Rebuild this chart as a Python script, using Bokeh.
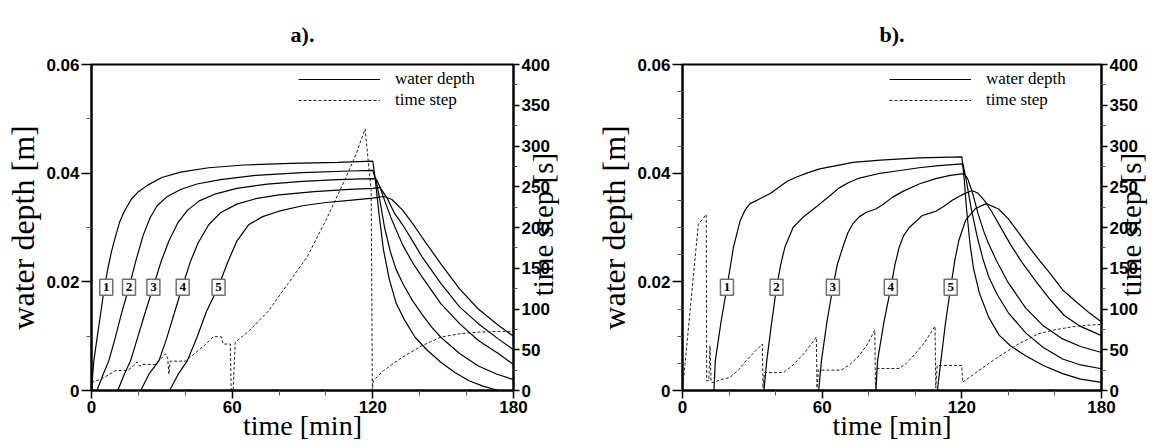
import math
from bokeh.plotting import figure
from bokeh.layouts import row
from bokeh.models import (Range1d, LinearAxis, FixedTicker, CustomJSTickFormatter,
                          Legend, LegendItem, ColumnDataSource)
from bokeh.core.properties import value
from bokeh.embed import file_html
from bokeh.resources import INLINE

# ---------------- data : panel a) ----------------
a1_t = [0, 1, 2.5, 4, 5.5, 7, 8.5, 10, 12, 14, 17, 20, 24, 30, 38, 50, 65, 85, 105, 120,
        121, 122.5, 124.5, 127, 130, 133.5, 138, 143, 149, 155, 161, 167, 173.5]
a1_h = [0, 0.0055, 0.010, 0.0145, 0.019, 0.0225, 0.0255, 0.028, 0.031, 0.033, 0.0352, 0.0366,
        0.0378, 0.0392, 0.0402, 0.041, 0.0415, 0.0418, 0.042, 0.0422,
        0.039, 0.033, 0.026, 0.0205, 0.016, 0.013, 0.0098, 0.0075, 0.0052, 0.0033, 0.0018, 0.0008, 0]
a2_t = [2.3, 5, 7.4, 10, 13, 16, 19, 22, 25, 28, 32, 38, 45, 55, 70, 90, 110, 120,
        121.5, 123, 125, 127.5, 130, 133, 137, 141, 145, 149, 157, 165, 173, 180]
a2_h = [0, 0.003, 0.0055, 0.0095, 0.0145, 0.019, 0.024, 0.0285, 0.0318, 0.034, 0.0356, 0.037,
        0.038, 0.0388, 0.0396, 0.0401, 0.0404, 0.0405,
        0.0385, 0.035, 0.030, 0.0255, 0.0222, 0.0195, 0.0165, 0.014, 0.0117, 0.0098, 0.0068,
        0.0045, 0.003, 0.002]
a3_t = [11.2, 14, 16.7, 19.5, 23, 26.3, 29.5, 33, 37, 41, 46, 53, 62, 75, 90, 105, 120, 121.5,
        123, 125, 128, 132.7, 137, 141, 149, 157, 165, 173.5, 180]
a3_h = [0, 0.003, 0.0055, 0.0095, 0.0145, 0.019, 0.0235, 0.0275, 0.031, 0.0332, 0.0349, 0.0362,
        0.0372, 0.038, 0.0385, 0.0388, 0.039, 0.0389,
        0.0375, 0.035, 0.0315, 0.0268, 0.0235, 0.0209, 0.016, 0.0123, 0.0092, 0.0068, 0.0048]
a4_t = [21, 24.5, 28.8, 32, 35.5, 38.7, 42, 45.5, 50, 55, 62, 70, 80, 95, 110, 120, 123,
        126, 129, 132.7, 137, 141, 149, 157, 165, 173.5, 180]
a4_h = [0, 0.003, 0.0055, 0.0095, 0.0145, 0.019, 0.0235, 0.0272, 0.0305, 0.0327, 0.0343, 0.0353,
        0.036, 0.0366, 0.037, 0.0372, 0.0374,
        0.0355, 0.0328, 0.0305, 0.0275, 0.0246, 0.0197, 0.0154, 0.0123, 0.0095, 0.0075]
a5_t = [33.3, 37, 40.9, 45, 49, 54, 58, 62, 67, 73, 80, 90, 100, 110, 120, 124.6,
        128, 132.7, 137, 141, 149, 157, 165, 173.5, 180]
a5_h = [0, 0.003, 0.0055, 0.0098, 0.0145, 0.019, 0.0235, 0.0275, 0.0305, 0.032, 0.033, 0.034,
        0.0346, 0.035, 0.0354, 0.0357,
        0.0352, 0.0332, 0.0307, 0.0282, 0.0233, 0.0187, 0.015, 0.012, 0.010]
a_dt_t = [0, 3, 6, 10.4, 15.3, 17.5, 19.4, 20.5, 22, 27, 30, 31.6, 32.5, 33, 33.6, 40, 43, 48,
          52, 55.3, 56.2, 59.2, 59.6, 60.4, 61.3, 67.5, 75.6, 83.8, 92, 100, 108, 113, 116.7,
          119.3, 119.8, 120.2, 124.6, 132.7, 141, 149, 157, 165, 173.5, 180]
a_dt_s = [10, 13, 17, 24.6, 24.6, 29, 35, 30, 32, 32, 40, 45, 40, 20, 36, 36, 43, 55,
          66, 66, 57, 57, 0, 0, 59, 74, 98, 131, 164, 209, 258, 291, 321,
          245, 0, 12, 24.6, 41, 55, 65.5, 69.6, 71.6, 72.5, 72.5]
a_box_t = [6.3, 16.0, 26.4, 38.9, 54.2]

# ---------------- data : panel b) ----------------
b1_t = [13.5, 14.1, 16.5, 19.1, 21.9, 24.8, 27, 29, 32, 34.7, 37.5, 40.4, 45, 49, 54, 58.9, 65,
        73.2, 85, 101.6, 120,
        121, 122, 123.5, 125, 127.5, 131.5, 136, 141, 147.4, 155, 163.3, 171, 180]
b1_h = [0, 0.0055, 0.0125, 0.019, 0.0264, 0.0313, 0.0333, 0.0344, 0.035, 0.0356, 0.0362, 0.0371,
        0.0385, 0.0393, 0.0401, 0.0408, 0.0413, 0.042, 0.0424, 0.0428, 0.043,
        0.039, 0.0335, 0.027, 0.0225, 0.018, 0.0135, 0.0102, 0.0082, 0.0064, 0.0046, 0.0031,
        0.0021, 0.0015]
b2_t = [35, 36.2, 38.3, 40.4, 42.2, 44, 47.5, 51.8, 55, 57.5, 60, 63.2, 67, 71, 76, 84, 92,
        101.6, 110, 120.5,
        122, 124, 126.5, 129, 131.5, 135, 140, 147.4, 155, 163.3, 171, 180]
b2_h = [0, 0.0055, 0.0125, 0.019, 0.0232, 0.0264, 0.030, 0.0319, 0.033, 0.0338, 0.0347, 0.0358,
        0.0372, 0.0382, 0.0391, 0.0399, 0.0404, 0.041, 0.0414, 0.0417,
        0.0385, 0.0335, 0.0285, 0.0243, 0.021, 0.0178, 0.0143, 0.0106, 0.0079, 0.0058, 0.0047,
        0.004]
b3_t = [58.5, 59.7, 62, 64.6, 66.5, 68.9, 71, 73.2, 76, 79, 83, 86, 90, 94.5, 101.6, 108.8, 115,
        121, 122.5, 124.5, 127, 129.5, 131.5, 135, 140, 147.4, 155, 163.3, 171, 180]
b3_h = [0, 0.0055, 0.0125, 0.019, 0.0232, 0.0264, 0.029, 0.0307, 0.032, 0.0328, 0.0334, 0.0342,
        0.0355, 0.0366, 0.038, 0.039, 0.0396, 0.0399,
        0.039, 0.0365, 0.0325, 0.0292, 0.027, 0.0238, 0.0198, 0.0152, 0.0119, 0.0095, 0.0081,
        0.007]
b4_t = [83.1, 83.8, 86.5, 89.5, 91.3, 93.1, 95, 97.4, 100, 103, 106, 108.8, 112, 115.9, 120,
        124.4, 127, 130, 133, 137, 141, 146, 152, 158, 164, 171, 180]
b4_h = [0, 0.0055, 0.0125, 0.019, 0.0232, 0.0264, 0.0285, 0.030, 0.031, 0.0322, 0.0326, 0.033,
        0.0338, 0.035, 0.036, 0.0368, 0.0363, 0.0348, 0.0328, 0.0298, 0.0268, 0.0235, 0.020,
        0.0167, 0.0138, 0.0118, 0.0101]
b5_t = [109.5, 111, 113, 115.2, 117, 118.7, 121.6, 125.9, 130.5, 135.8, 140, 144.3, 148.5,
        152.9, 158, 163.3, 170, 175, 180]
b5_h = [0, 0.0055, 0.0125, 0.019, 0.024, 0.0276, 0.0313, 0.0335, 0.0344, 0.0334, 0.0316, 0.0291,
        0.0266, 0.0242, 0.0215, 0.0185, 0.016, 0.0142, 0.0126]
b_dt_t = [0, 6.8, 10.2, 10.4, 11.3, 11.8, 12.3, 13.5, 16, 20.3, 24, 27.5, 31.5, 34.3, 34.6,
          35.2, 43.4, 47, 52.1, 55, 57.5, 57.8, 58.4, 68.2, 72, 76, 79.5, 82.6, 82.9, 83.5,
          93, 96, 100, 104, 108.5, 108.8, 109.4, 120, 120.3, 127.3, 135, 144.3, 152.9, 160,
          167, 173, 180]
b_dt_s = [0, 204, 216, 12, 12, 55, 10, 10, 13, 16, 25, 37, 49, 57, 3,
          22, 22, 30, 45, 56, 65.5, 3, 25, 25, 32, 43, 57, 74, 3, 27,
          27, 33, 45, 59, 79, 3, 30.7, 30.7, 10, 24.5, 40, 57, 69.6, 74.5,
          78, 80, 81]
b_box_t = [19.1, 40.4, 64.6, 89.5, 115.2]

box_h = 0.019
box_labels = ["1", "2", "3", "4", "5"]
x_major = [0, 60, 120, 180]
x_minor = [20, 40, 80, 100, 140, 160]
y_major = [0, 0.02, 0.04, 0.06]
s_major = list(range(0, 401, 50))
s_minor = list(range(25, 400, 50))

SERIF = "Liberation Serif"
SANS = "Liberation Sans"
# leading no-break spaces lift the label so that it sits centred on the right axis
RIGHT_LABEL = "\u00a0" * 13 + "time step [s]"


def make_panel(title, curves, dt_t, dt_s, box_t, y_minor, left_border, right_border, width):
    p = figure(width=width, height=448, x_range=Range1d(0, 180), y_range=Range1d(0, 0.06),
               output_backend="svg", toolbar_location=None,
               min_border_left=left_border, min_border_right=right_border,
               min_border_top=64, min_border_bottom=58)
    p.title.text = title
    p.title.align = "center"
    p.title.vertical_align = "top"
    p.title.text_font = SERIF
    p.title.text_font_size = "22px"
    p.title.text_font_style = "bold"
    p.title.text_color = "black"
    p.title.standoff = 32
    p.xgrid.visible = False
    p.ygrid.visible = False
    p.outline_line_color = "black"
    p.outline_line_width = 2
    p.background_fill_color = "white"
    p.border_fill_color = "white"

    p.extra_y_ranges = {"ts": Range1d(0, 400)}

    rs = []
    for (t, h) in curves:
        r = p.line(t, h, line_color="black", line_width=1.2)
        rs.append(r)
    rd = p.line(dt_t, dt_s, y_range_name="ts", line_color="#222222", line_width=1,
                line_dash="3 2")

    src = ColumnDataSource(dict(x=box_t, y=[box_h] * 5, t=box_labels))
    p.rect("x", "y", width=13, height=16, width_units="screen", height_units="screen",
           source=src, fill_color="white", line_color="#707070", line_width=1.5)
    p.text("x", "y", text="t", source=src, text_font=value(SERIF), text_font_style="bold",
           text_font_size="13px", text_align="center", text_baseline="middle",
           text_color="black")

    # axes
    xa = p.xaxis[0]
    xa.ticker = FixedTicker(ticks=x_major, minor_ticks=x_minor)
    xa.axis_label = "time [min]"
    ya = p.yaxis[0]
    ya.ticker = FixedTicker(ticks=y_major, minor_ticks=y_minor)
    ya.formatter = CustomJSTickFormatter(code="return tick == 0 ? '0' : tick.toFixed(2);")
    ya.axis_label = "water depth [m]"
    ra = LinearAxis(y_range_name="ts", axis_label=RIGHT_LABEL,
                    ticker=FixedTicker(ticks=s_major, minor_ticks=s_minor))
    ra.axis_label_orientation = math.pi / 2
    ra.axis_label_align = "start"
    p.add_layout(ra, "right")

    for ax in (xa, ya, ra):
        ax.axis_line_width = 2
        ax.axis_line_color = "black"
        ax.major_tick_in = 0
        ax.minor_tick_in = 0
        ax.major_tick_line_width = 1.5
        ax.minor_tick_line_width = 1
        ax.minor_tick_line_color = "#555555"
        ax.major_label_text_font = SANS
        ax.major_label_text_font_style = "bold"
        ax.major_label_text_font_size = "17px"
        ax.major_label_text_color = "black"
        ax.axis_label_text_font = SERIF
        ax.axis_label_text_font_style = "normal"
        ax.axis_label_text_color = "black"
    xa.major_tick_out = 8
    xa.minor_tick_out = 5
    xa.major_label_standoff = 2
    xa.axis_label_text_font_size = "28px"
    xa.axis_label_standoff = -6
    ya.major_tick_out = 10
    ya.minor_tick_out = 5
    ya.major_label_standoff = 2
    ya.axis_label_text_font_size = "32px"
    ya.axis_label_standoff = 2
    ra.major_tick_out = 6
    ra.minor_tick_out = 4
    ra.major_label_standoff = 2
    ra.axis_label_text_font_size = "29px"
    ra.axis_label_standoff = -10

    legend = Legend(items=[LegendItem(label="water depth", renderers=[rs[0]]),
                           LegendItem(label="time step", renderers=[rd])],
                    location=(207, 280), glyph_width=82, glyph_height=20,
                    label_standoff=15, padding=0, margin=0, spacing=1,
                    border_line_color=None, background_fill_alpha=0,
                    label_text_font=SERIF, label_text_font_size="17px",
                    label_text_color="black", label_height=20)
    p.add_layout(legend)
    return p


pa = make_panel("a).", [(a1_t, a1_h), (a2_t, a2_h), (a3_t, a3_h), (a4_t, a4_h), (a5_t, a5_h)],
                a_dt_t, a_dt_s, a_box_t, [0.01, 0.03, 0.05], 91, 69, 582)
pb = make_panel("b).", [(b1_t, b1_h), (b2_t, b2_h), (b3_t, b3_h), (b4_t, b4_h), (b5_t, b5_h)],
                b_dt_t, b_dt_s, b_box_t,
                [0.005, 0.01, 0.015, 0.025, 0.03, 0.035, 0.045, 0.05, 0.055], 100, 61, 583)

layout = row(pa, pb, spacing=0)
open("out.html", "w").write(file_html(layout, INLINE))
